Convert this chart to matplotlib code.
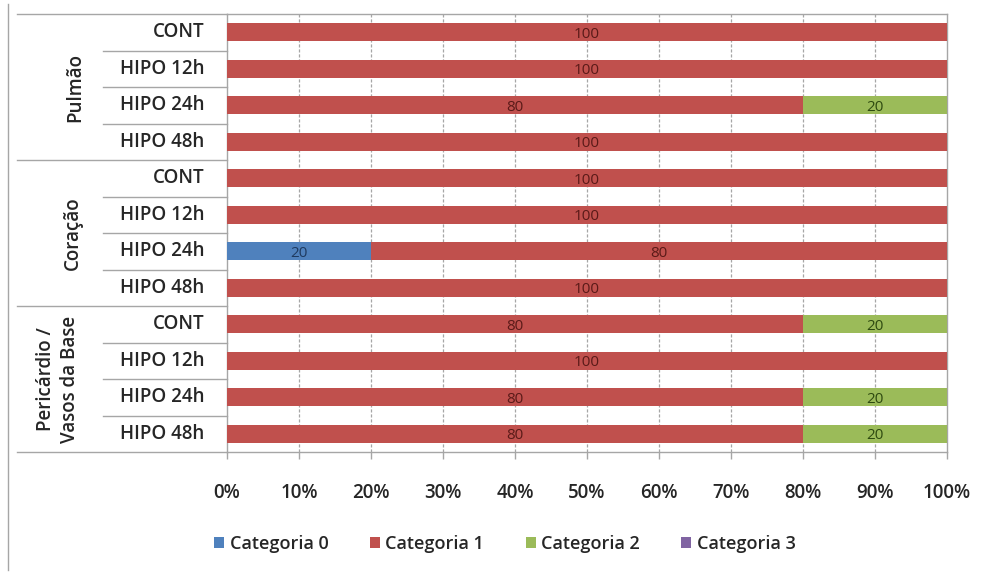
import matplotlib
matplotlib.use("Agg")
import matplotlib.pyplot as plt
import matplotlib.transforms as mtransforms
from matplotlib.patches import Patch
import numpy as np

plt.rcParams['font.family'] = ['Open Sans', 'DejaVu Sans']

groups = ['Pulmão', 'Coração', 'Pericárdio /\nVasos da Base']
conditions = ['CONT', 'HIPO 12h', 'HIPO 24h', 'HIPO 48h']
series_names = ['Categoria 0', 'Categoria 1', 'Categoria 2', 'Categoria 3']

cat0 = [0, 0, 0, 0, 0, 0, 20, 0, 0, 0, 0, 0]
cat1 = [100, 100, 80, 100, 100, 100, 80, 100, 80, 100, 80, 80]
cat2 = [0, 0, 20, 0, 0, 0, 0, 0, 20, 0, 20, 20]
cat3 = [0, 0, 0, 0, 0, 0, 0, 0, 0, 0, 0, 0]

x_ticks = [0, 10, 20, 30, 40, 50, 60, 70, 80, 90, 100]
x_tick_labels = ['0%', '10%', '20%', '30%', '40%', '50%', '60%', '70%', '80%', '90%', '100%']

colors = ['#4F81BD', '#C0504D', '#9BBB59', '#8064A2']
text_colors = ['#1F3A5F', '#5A1A18', '#2E4A10', '#3A2A55']
grid_col = '#A6A6A6'
txt_col = '#262626'
wt = 'semibold'

fig = plt.figure(figsize=(9.82, 5.72), dpi=100)
ax = fig.add_axes([227 / 982, 1 - 452 / 572, 720 / 982, 438 / 572])

n_rows = len(groups) * len(conditions)
y = np.arange(n_rows)
series = [cat0, cat1, cat2, cat3]
left = np.zeros(n_rows)
for vals, col, tcol, name in zip(series, colors, text_colors, series_names):
    vals = np.array(vals, dtype=float)
    ax.barh(y, vals, left=left, height=0.5, color=col, label=name,
            edgecolor='none', zorder=3)
    for yi, (l, v) in enumerate(zip(left, vals)):
        if v > 0:
            ax.text(l + v / 2, yi + 0.06, f'{v:.0f}', ha='center', va='center',
                    fontsize=11, color=tcol, zorder=4)
    left += vals

ax.set_xlim(0, 100)
ax.set_ylim(n_rows - 0.5, -0.5)

# dashed vertical gridlines
for xv in x_ticks[1:-1]:
    ax.axvline(xv, color=grid_col, lw=0.9, ls=(0, (2.5, 1.5)), zorder=1)

for s in ax.spines.values():
    s.set_color(grid_col)
    s.set_linewidth(1.0)

ax.set_xticks(x_ticks)
ax.set_xticklabels(x_tick_labels, fontsize=13.5, fontweight=wt, color=txt_col)
ax.tick_params(axis='x', length=5, width=1.0, color=grid_col, pad=17)
ax.set_yticks([])

# two-level category axis on the left
trans = mtransforms.blended_transform_factory(ax.transAxes, ax.transData)
x_outer = (17 - 227) / 720
x_inner = (103 - 227) / 720
for i in range(n_rows):
    cond = conditions[i % len(conditions)]
    ax.text((204 - 227) / 720, i, cond, transform=trans, ha='right', va='center',
            fontsize=13.5, fontweight=wt, color=txt_col)

for b in np.arange(0.5, n_rows - 0.5, 1.0):
    x0 = x_outer if (b + 0.5) % len(conditions) == 0 else x_inner
    ax.plot([x0, 0], [b, b], transform=trans, color=grid_col, lw=1.0,
            clip_on=False)
for b in (-0.5, n_rows - 0.5):
    ax.plot([x_outer, 0], [b, b], transform=trans, color=grid_col, lw=1.0,
            clip_on=False)

group_x = [(75 - 227) / 720, (73 - 227) / 720, (58 - 227) / 720]
for g, (name, gx) in enumerate(zip(groups, group_x)):
    yc = g * len(conditions) + (len(conditions) - 1) / 2
    ax.text(gx, yc, name, transform=trans, rotation=90, ha='center',
            va='center', fontsize=13.5, fontweight=wt, color=txt_col,
            linespacing=1.3, multialignment='center')

# outer chart border on the left
fig.add_artist(plt.Line2D([8 / 982, 8 / 982], [1 - 4 / 572, 1 - 570 / 572],
                          color=grid_col, lw=1.0))

handles = [Patch(facecolor=c, edgecolor='none') for c in colors]
fig.legend(handles, series_names, loc='center', ncol=4, frameon=False,
           bbox_to_anchor=(505 / 982, 1 - 544 / 572),
           handlelength=0.55, handleheight=0.55, handletextpad=0.3,
           columnspacing=2.3, prop={'size': 13, 'weight': wt},
           labelcolor=txt_col)

fig.savefig('out.png', dpi=100, facecolor='white')
